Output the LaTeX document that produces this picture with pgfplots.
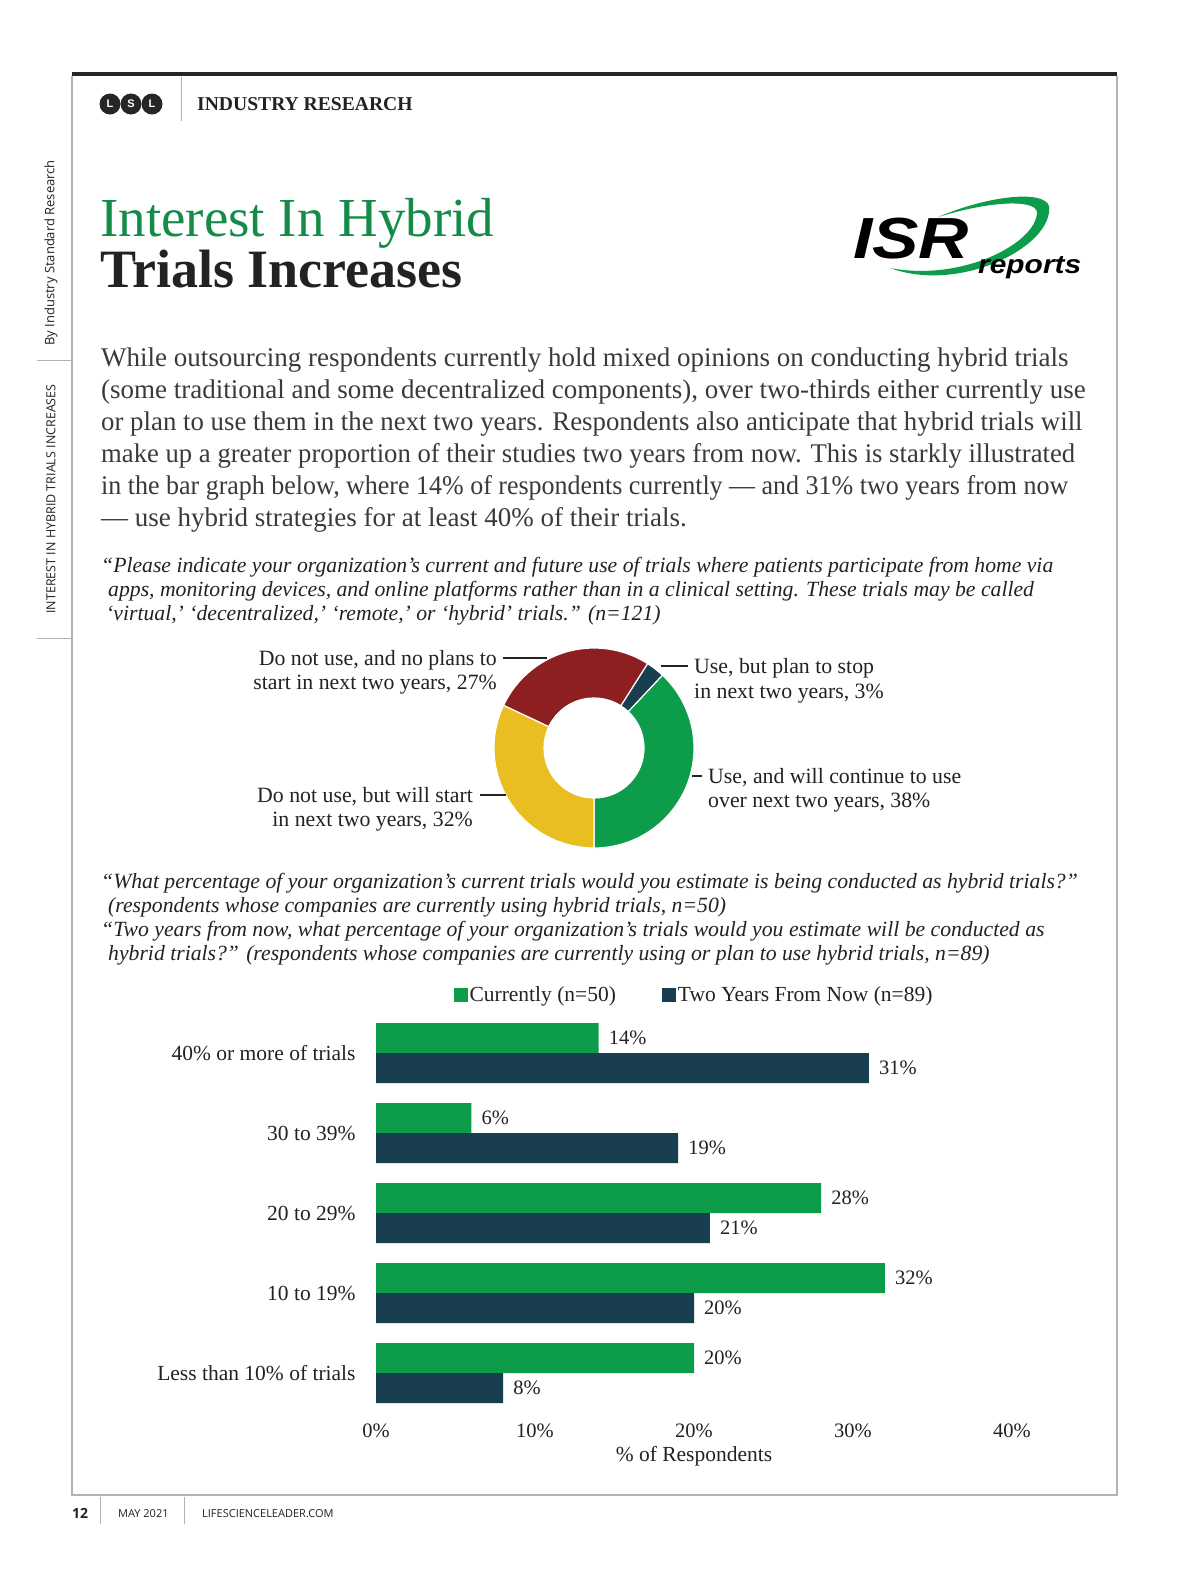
\documentclass[border=0pt]{standalone}
\usepackage{fontspec}
\setmainfont{Liberation Serif}
\setsansfont{Open Sans}
\newfontfamily\arialf{Liberation Sans}
\usepackage{pgfplots}
\usepackage{pgfplotstable}
\pgfplotsset{compat=1.18}
\definecolor{cgreen}{RGB}{13,156,74}
\definecolor{cnavy}{RGB}{25,62,80}
\definecolor{cred}{RGB}{141,31,33}
\definecolor{cyellow}{RGB}{233,190,33}
\definecolor{tgreen}{RGB}{20,140,72}
\definecolor{bodyg}{RGB}{58,58,58}
\definecolor{txt}{RGB}{34,34,34}

\pgfplotstableread{
pos cur two
4 14 31
3 6 19
2 28 21
1 32 20
0 20 8
}\bardata

\pgfplotstableread{
label share
continue 38
stop 3
noplans 27
start 32
}\donutdata

\pgfplotstablegetelem{0}{share}\of\donutdata\let\sA\pgfplotsretval
\pgfplotstablegetelem{1}{share}\of\donutdata\let\sB\pgfplotsretval
\pgfplotstablegetelem{2}{share}\of\donutdata\let\sC\pgfplotsretval
\pgfplotstablegetelem{3}{share}\of\donutdata\let\sD\pgfplotsretval
\pgfmathsetmacro\aA{-90}
\pgfmathsetmacro\aB{\aA+3.6*\sA}
\pgfmathsetmacro\aC{\aB+3.6*\sB}
\pgfmathsetmacro\aD{\aC+3.6*\sC}
\pgfmathsetmacro\aE{\aD+3.6*\sD}

\begin{document}%
\begin{tikzpicture}[x=1pt,y=-1pt]
\fill[white] (0,0) rectangle (1200,1582);
\path[use as bounding box] (0,0) rectangle (1200,1582);

% frame
\draw[gray!60, line width=1.2pt] (72,76) -- (72,1495) -- (1117,1495) -- (1117,76);
\draw[black!85, line width=4pt] (72,74) -- (1117,74);

% header
\foreach \x/\l in {110/L,131/S,152/L} {
  \fill[black!85] (\x,104) circle (10.5);
  \node[text=white, font=\arialf\bfseries\fontsize{11}{11}\selectfont] at (\x,104) {\l};
}
\draw[gray!60, line width=1pt] (181,77) -- (181,121);
\node[anchor=base west, inner sep=0pt, font=\bfseries\fontsize{19.6}{19.6}\selectfont, text=txt] at (197,110) {INDUSTRY RESEARCH};

% sidebar
\node[rotate=90, inner sep=0pt, font=\sffamily\fontsize{13}{13}\selectfont, text=txt] at (51,253) {By Industry Standard Research};
\node[rotate=90, inner sep=0pt, font=\sffamily\fontsize{12.5}{13}\selectfont, text=txt] at (51,499) {INTEREST IN HYBRID TRIALS INCREASES};
\draw[gray!60, line width=1pt] (37,360) -- (72,360);
\draw[gray!60, line width=1pt] (37,638) -- (72,638);

% title
\node[anchor=base west, inner sep=0pt, font=\fontsize{55}{55}\selectfont, text=tgreen] at (100,236) {Interest In Hybrid};
\node[anchor=base west, inner sep=0pt, font=\bfseries\fontsize{54}{54}\selectfont, text=txt] at (100,287) {Trials Increases};

% ISR logo
\fill[cgreen] (890,268) .. controls (960,294) and (1054,246) .. (1049,206) .. controls (1044,190) and (990,195) .. (938,217) .. controls (990,201) and (1035,199) .. (1037,212) .. controls (1037,243) and (962,282) .. (890,268) -- cycle;
\node[anchor=base west, inner sep=0pt, font=\arialf\bfseries\itshape\fontsize{58}{58}\selectfont, text=black] at (853,258) {\scalebox{1.2}[1]{ISR}};
\node[anchor=base west, inner sep=0pt, font=\arialf\bfseries\itshape\fontsize{26}{26}\selectfont, text=black] at (978,273) {\scalebox{1.15}[1]{reports}};

% paragraph
\begin{scope}[every node/.style={anchor=base west, inner sep=0pt, font=\fontsize{27}{30}\selectfont, text=bodyg}]
\node at (101,366) {While outsourcing respondents currently hold mixed opinions on conducting hybrid trials};
\node at (101,398) {(some traditional and some decentralized components), over two-thirds either currently use};
\node at (101,430) {\scalebox{0.993}[1]{or plan to use them in the next two years. Respondents also anticipate that hybrid trials will}};
\node at (101,462) {\scalebox{0.988}[1]{make up a greater proportion of their studies two years from now. This is starkly illustrated}};
\node at (101,494) {\scalebox{0.962}[1]{in the bar graph below, where 14\% of respondents currently — and 31\% two years from now}};
\node at (101,526) {— use hybrid strategies for at least 40\% of their trials.};
\end{scope}

% questions
\begin{scope}[every node/.style={anchor=base west, inner sep=0pt, font=\itshape\fontsize{21.7}{24}\selectfont, text=txt}]
\node at (101,572) {“Please indicate your organization’s current and future use of trials where patients participate from home via};
\node at (108,596) {apps, monitoring devices, and online platforms rather than in a clinical setting. These trials may be called};
\node at (106,620) {‘virtual,’ ‘decentralized,’ ‘remote,’ or ‘hybrid’ trials.” (n=121)};
\node at (101,888) {“What percentage of your organization’s current trials would you estimate is being conducted as hybrid trials?”};
\node at (108,912) {(respondents whose companies are currently using hybrid trials, n=50)};
\node at (101,936) {“Two years from now, what percentage of your organization’s trials would you estimate will be conducted as};
\node at (108,960) {hybrid trials?” (respondents whose companies are currently using or plan to use hybrid trials, n=89)};
\end{scope}

% donut
\begin{axis}[at={(594pt,-748pt)}, anchor=center, scale only axis, width=200pt, height=200pt,
  xmin=-1, xmax=1, ymin=-1, ymax=1, hide axis, clip=false]
\fill[cgreen, draw=white, line width=1.2pt] (axis cs:{cos(\aA)},{sin(\aA)}) arc[start angle=\aA, end angle=\aB, radius=100pt] -- (axis cs:{0.5*cos(\aB)},{0.5*sin(\aB)}) arc[start angle=\aB, end angle=\aA, radius=50pt] -- cycle;
\fill[cnavy, draw=white, line width=1.2pt] (axis cs:{cos(\aB)},{sin(\aB)}) arc[start angle=\aB, end angle=\aC, radius=100pt] -- (axis cs:{0.5*cos(\aC)},{0.5*sin(\aC)}) arc[start angle=\aC, end angle=\aB, radius=50pt] -- cycle;
\fill[cred, draw=white, line width=1.2pt] (axis cs:{cos(\aC)},{sin(\aC)}) arc[start angle=\aC, end angle=\aD, radius=100pt] -- (axis cs:{0.5*cos(\aD)},{0.5*sin(\aD)}) arc[start angle=\aD, end angle=\aC, radius=50pt] -- cycle;
\fill[cyellow, draw=white, line width=1.2pt] (axis cs:{cos(\aD)},{sin(\aD)}) arc[start angle=\aD, end angle=\aE, radius=100pt] -- (axis cs:{0.5*cos(\aE)},{0.5*sin(\aE)}) arc[start angle=\aE, end angle=\aD, radius=50pt] -- cycle;
\end{axis}

% donut labels
\begin{scope}[every node/.style={inner sep=0pt, font=\fontsize{21.8}{24}\selectfont, text=txt}]
\node[anchor=base east] at (497,665) {Do not use, and no plans to};
\node[anchor=base east] at (497,689) {start in next two years, 27\%};
\node[anchor=base west] at (694,673) {Use, but plan to stop};
\node[anchor=base west] at (694,698) {in next two years, 3\%};
\node[anchor=base west] at (708,783) {Use, and will continue to use};
\node[anchor=base west] at (708,807) {over next two years, 38\%};
\node[anchor=base east] at (473,802) {Do not use, but will start};
\node[anchor=base east] at (473,826) {in next two years, 32\%};
\end{scope}
\draw[txt, line width=1.3pt] (503,658) -- (547,658);
\draw[txt, line width=1.3pt] (661,666) -- (688,666);
\draw[txt, line width=1.3pt] (692,776) -- (702,776);
\draw[txt, line width=1.3pt] (480,795) -- (506,795);

% bar chart
\begin{axis}[at={(376pt,-1413pt)}, anchor=south west, scale only axis, width=636pt, height=400pt,
  xmin=0, xmax=40, ymin=-0.5, ymax=4.5,
  xbar, bar width=30pt,
  axis line style={draw=none}, tick style={draw=none},
  xtick={0,10,20,30,40}, xticklabel={\pgfmathprintnumber{\tick}\%},
  ytick={0,1,2,3,4},
  yticklabels={Less than 10\% of trials, 10 to 19\%, 20 to 29\%, 30 to 39\%, 40\% or more of trials},
  /pgf/number format/assume math mode=true,
  tick label style={font=\fontsize{20.5}{24}\selectfont, text=txt},
  yticklabel style={inner sep=0pt, xshift=-16pt, font=\fontsize{21.5}{24}\selectfont},
  xticklabel style={inner sep=0pt, yshift=-11pt},
  xlabel={\% of Respondents},
  xlabel style={font=\fontsize{21.5}{24}\selectfont, text=txt, at={(axis description cs:0.5,0)}, anchor=north, yshift=-33pt, inner sep=0pt},
  nodes near coords={\pgfmathprintnumber{\pgfplotspointmeta}\%},
  every node near coord/.append style={font=\fontsize{20.5}{24}\selectfont, text=txt, inner sep=0pt, xshift=10pt, anchor=west},
  legend columns=2,
  legend style={draw=none, fill=none, at={(0.5,1)}, anchor=south, yshift=6pt, font=\fontsize{21.5}{24}\selectfont, text=txt,
    /tikz/every even column/.append style={column sep=44pt}},
  legend image code/.code={\fill[#1] (0pt,-7pt) rectangle (14pt,7pt);},
  clip=false,
]
\addplot[fill=cgreen, draw=none, bar shift=15pt] table[x=cur, y=pos] {\bardata};
\addplot[fill=cnavy, draw=none, bar shift=-15pt] table[x=two, y=pos] {\bardata};
\legend{Currently (n=50), Two Years From Now (n=89)}
\end{axis}

% footer
\node[anchor=west, inner sep=0pt, font=\sffamily\bfseries\fontsize{14}{14}\selectfont, text=txt] at (72,1513) {12};
\draw[gray!60, line width=1pt] (100,1497) -- (100,1524);
\node[anchor=west, inner sep=0pt, font=\sffamily\fontsize{11}{11}\selectfont, text=txt] at (118,1514) {MAY 2021};
\draw[gray!60, line width=1pt] (184,1497) -- (184,1524);
\node[anchor=west, inner sep=0pt, font=\sffamily\fontsize{11}{11}\selectfont, text=txt] at (202,1514) {LIFESCIENCELEADER.COM};
\end{tikzpicture}%
\end{document}
